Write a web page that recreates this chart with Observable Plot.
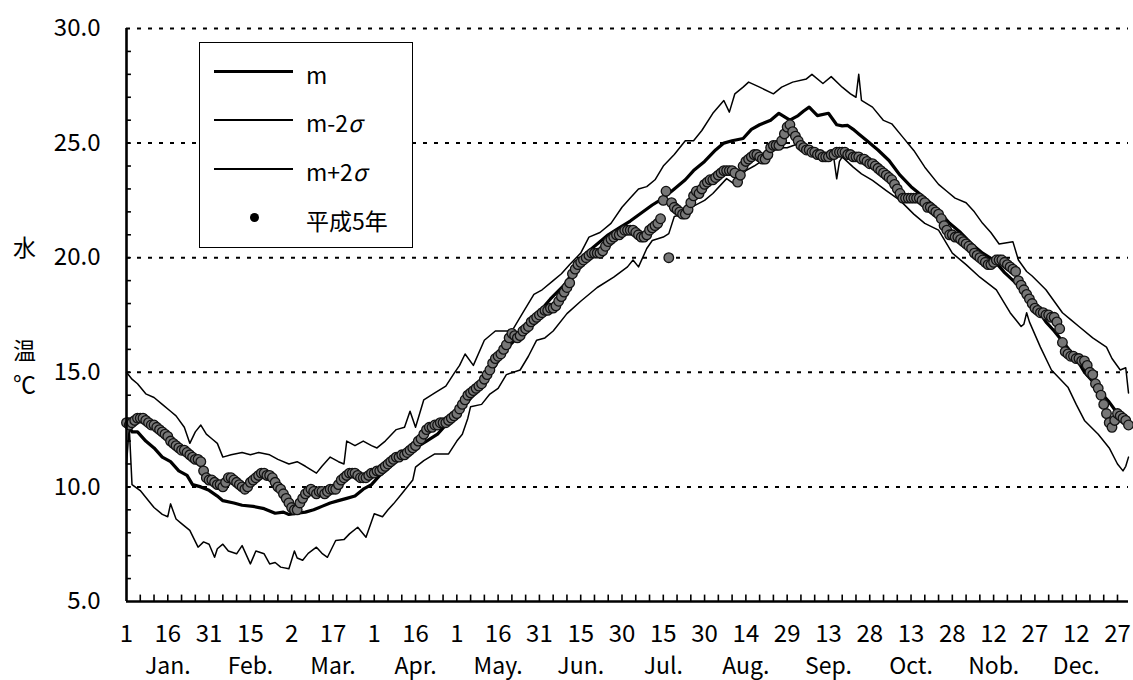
<!DOCTYPE html>
<html><head><meta charset="utf-8">
<script src="https://cdn.jsdelivr.net/npm/d3@7"></script>
<script src="https://cdn.jsdelivr.net/npm/@observablehq/plot@0.6"></script>
<style>
body{margin:0;background:#fff;}
#wrap{position:relative;width:1133px;height:680px;font-family:"Noto Sans CJK JP","Noto Sans",sans-serif;color:#000;}
#wrap svg{position:absolute;left:0;top:0;}
.ylab{position:absolute;font-size:23px;line-height:1;}
#legend{position:absolute;left:199px;top:42px;width:212px;height:204px;border:1.6px solid #000;background:#fff;}
#legend .ln{position:absolute;left:14px;width:79px;background:#000;}
#legend .dt{position:absolute;left:50px;width:9px;height:9px;border-radius:50%;background:#000;}
#legend .tx{position:absolute;left:106px;font-size:23px;line-height:1;}
#legend i{font-style:italic;}
</style></head><body><div id="wrap"></div>
<script>
// ---- data ----
const dayLabels = ["1","16","31","15","2","17","1","16","1","16","31","15","30","15","30","14","29","13","28","13","28","12","27","12","27"];
const monthLabels = ["Jan.","Feb.","Mar.","Apr.","May.","Jun.","Jul.","Aug.","Sep.","Oct.","Nob.","Dec."];
const yTicks = [5,10,15,20,25,30];
const gridTemps = [10,15,20,25,30];

// m (mean)  [day, °C]
const meanPts = [[1,12.9],[3,12.4],[5,12.4],[8,12.0],[11,11.7],[14,11.3],[17,11.1],[20,10.7],[23,10.5],[25,10.1],[28,10.0],[31,9.85],[34,9.6],[36,9.4],[40,9.3],[43,9.2],[47,9.15],[51,9.05],[55,8.85],[58,8.9],[60,8.8],[63,8.85],[66,8.9],[69,9.0],[72,9.15],[75,9.3],[78,9.4],[81,9.5],[84,9.6],[87,9.9],[90,10.1],[93,10.5],[96,10.8],[99,11.15],[102,11.4],[106,11.7],[110,12.0],[114,12.3],[117,12.7],[121,13.2],[124,13.6],[127,14.0],[131,14.6],[135,15.3],[138,15.9],[142,16.4],[146,16.9],[150,17.5],[155,18.2],[160,18.8],[164,19.5],[168,20.2],[172,20.6],[176,21.0],[180,21.3],[184,21.6],[188,21.95],[192,22.3],[196,22.6],[200,23.0],[204,23.4],[207,23.8],[211,24.2],[215,24.7],[218,25.0],[221,25.1],[225,25.2],[228,25.6],[231,25.8],[235,26.0],[238,26.3],[242,26.0],[245,26.2],[247,26.4],[249,26.57],[252,26.2],[256,26.3],[259,25.8],[261,25.75],[263,25.77],[265,25.6],[267,25.4],[270,25.1],[274,24.7],[278,24.24],[282,23.6],[286,23.1],[290,22.7],[293,22.4],[297,21.9],[300,21.5],[304,21.1],[308,20.6],[312,20.2],[316,19.9],[320,19.35],[324,18.9],[328,18.4],[331,17.9],[335,17.2],[338,16.8],[342,16.2],[346,15.6],[349,15.0],[352,14.6],[355,14.1],[358,13.7],[361,13.2],[363,12.9],[365,12.6]];

// m-2σ
const lowerPts = [[1,11.0],[2,12.6],[3,10.1],[6,9.84],[9,9.4],[11,9.1],[14,8.8],[16,8.7],[17,9.26],[19,8.6],[21,8.4],[24,8.1],[27,7.37],[29,7.6],[31,7.5],[33,6.93],[34,7.3],[36,7.5],[38,7.2],[41,7.08],[43,7.44],[46,6.64],[48,7.2],[51,7.08],[53,6.64],[55,6.7],[57,6.5],[60,6.43],[62,7.2],[63,6.9],[65,6.8],[67,7.1],[70,7.37],[72,7.1],[74,6.93],[77,7.66],[80,7.7],[82,7.95],[85,8.24],[88,7.8],[91,8.83],[94,8.7],[96,9.0],[98,9.26],[101,9.7],[105,10.3],[106,10.86],[109,11.15],[113,11.44],[118,11.44],[121,12.0],[123,12.3],[125,13.0],[126,13.5],[130,13.6],[133,14.05],[136,14.3],[139,14.9],[144,15.1],[147,15.7],[150,16.4],[153,16.5],[156,16.8],[161,17.56],[166,18.1],[172,18.7],[178,19.15],[183,19.6],[185,19.9],[187,19.6],[190,20.4],[192,20.75],[196,20.9],[198,21.05],[200,21.8],[203,21.9],[207,22.25],[211,22.5],[214,22.8],[219,23.45],[222,23.2],[226,23.8],[229,24.0],[232,24.24],[236,24.97],[239,24.8],[241,24.8],[245,24.97],[248,24.7],[250,24.5],[253,24.5],[256,24.5],[258,24.3],[259,23.44],[260,24.2],[261,24.4],[265,23.95],[268,23.66],[272,23.37],[277,22.93],[282,22.5],[287,21.9],[291,21.5],[296,21.2],[301,20.2],[306,19.7],[311,19.15],[317,18.6],[322,17.6],[326,17.0],[327,17.1],[328,17.6],[329,17.2],[333,16.1],[337,15.1],[341,14.6],[343,14.35],[346,13.6],[349,12.9],[354,12.3],[358,11.7],[361,11.0],[363,10.7],[364,10.9],[365,11.3]];

// m+2σ
const upperPts = [[1,15.0],[3,14.7],[5,14.5],[8,14.06],[11,13.9],[14,13.6],[17,13.3],[19,13.1],[22,12.6],[24,11.9],[26,12.4],[28,12.7],[30,12.3],[32,12.1],[34,11.9],[36,11.3],[39,11.4],[43,11.5],[46,11.4],[49,11.5],[53,11.4],[56,11.2],[60,11.0],[63,11.1],[66,10.9],[70,10.6],[72,10.9],[75,11.3],[78,11.1],[80,11.0],[81,12.0],[84,11.8],[87,12.0],[90,11.8],[92,11.7],[95,12.0],[99,12.5],[102,12.6],[104,13.3],[106,12.6],[109,13.8],[113,14.1],[117,14.4],[120,14.95],[122,15.3],[124,15.8],[127,15.3],[131,16.4],[135,16.8],[138,16.8],[141,16.8],[145,17.6],[149,18.4],[152,18.6],[156,19.0],[159,19.3],[162,19.7],[166,20.2],[169,20.9],[173,21.1],[177,21.5],[181,22.2],[184,22.6],[187,23.0],[190,23.1],[193,23.4],[196,24.0],[200,24.5],[204,25.1],[207,25.1],[210,25.55],[214,26.3],[218,26.86],[220,26.35],[222,27.15],[225,27.44],[227,27.66],[231,27.44],[236,27.15],[239,27.44],[243,27.66],[248,27.8],[250,28.0],[254,27.6],[257,27.9],[261,27.44],[264,27.15],[266,27.0],[267,28.0],[268,26.86],[272,26.57],[276,25.99],[279,25.84],[283,25.26],[287,24.68],[291,23.95],[296,23.2],[299,22.9],[302,22.6],[306,22.4],[309,22.0],[312,21.5],[315,21.1],[318,20.6],[323,20.7],[325,19.9],[328,19.4],[330,19.2],[335,18.6],[338,18.1],[341,17.6],[344,17.3],[347,17.0],[352,16.5],[357,16.1],[359,15.6],[362,15.1],[364,15.2],[365,14.1]];

// 平成5年 daily observations, one array per month
const obsJan = [12.8,12.7,12.8,12.9,13.0,13.0,13.0,12.9,12.8,12.7,12.7,12.6,12.5,12.4,12.3,12.2,12.0,11.9,11.8,11.7,11.6,11.6,11.5,11.4,11.3,11.2,11.2,11.1,10.7,10.4,10.3];
const obsFeb = [10.3,10.2,10.1,10.1,10.0,10.2,10.4,10.4,10.3,10.2,10.1,10.0,9.9,10.0,10.2,10.3,10.4,10.5,10.6,10.6,10.5,10.5,10.4,10.2,10.0,9.9,9.7,9.5];
const obsMar = [9.3,9.1,9.0,9.0,9.3,9.5,9.7,9.8,9.9,9.8,9.7,9.8,9.8,9.7,9.8,9.9,9.9,9.9,10.1,10.3,10.4,10.5,10.6,10.6,10.6,10.5,10.4,10.4,10.4,10.5,10.6];
const obsApr = [10.6,10.7,10.7,10.8,10.9,11.0,11.1,11.2,11.3,11.3,11.4,11.4,11.5,11.6,11.7,11.8,12.0,12.1,12.3,12.5,12.6,12.6,12.7,12.7,12.8,12.8,12.8,12.9,13.0,13.1];
const obsMay = [13.2,13.4,13.6,13.8,14.0,14.1,14.2,14.3,14.4,14.5,14.7,14.9,15.1,15.4,15.6,15.7,15.8,16.0,16.2,16.5,16.7,16.6,16.5,16.6,16.8,16.9,17.0,17.2,17.3,17.4,17.5];
const obsJun = [17.6,17.7,17.7,17.8,17.8,17.9,18.1,18.3,18.5,18.7,18.9,19.3,19.5,19.7,19.8,19.9,20.0,20.1,20.2,20.2,20.2,20.2,20.3,20.5,20.7,20.8,20.9,21.0,21.0,21.1];
const obsJul = [21.2,21.2,21.2,21.2,21.1,21.0,20.9,20.9,21.0,21.2,21.3,21.4,21.5,21.7,22.5,22.9,20.0,22.4,22.2,22.1,22.0,21.9,21.9,22.1,22.4,22.7,22.9,22.8,23.0,23.2,23.3];
const obsAug = [23.4,23.4,23.5,23.6,23.7,23.8,23.8,23.8,23.8,23.7,23.3,23.6,24.0,24.2,24.3,24.4,24.5,24.5,24.4,24.3,24.3,24.5,24.8,24.9,24.9,24.9,25.1,25.4,25.7,25.8,25.5];
const obsSep = [25.3,25.1,24.9,24.8,24.7,24.7,24.6,24.6,24.5,24.5,24.4,24.4,24.4,24.5,24.5,24.6,24.6,24.6,24.6,24.5,24.5,24.4,24.4,24.4,24.3,24.3,24.2,24.1,24.1,24.0];
const obsOct = [23.9,23.8,23.7,23.6,23.5,23.4,23.2,23.0,22.8,22.6,22.6,22.6,22.6,22.6,22.6,22.6,22.5,22.4,22.2,22.2,22.1,22.0,21.9,21.7,21.4,21.2,21.0,21.0,20.9,20.9,20.8];
const obsNov = [20.7,20.6,20.5,20.4,20.2,20.1,20.0,19.9,19.8,19.7,19.7,19.8,19.9,19.9,19.9,19.8,19.7,19.6,19.5,19.4,19.0,18.8,18.6,18.4,18.2,18.0,17.8,17.7,17.6,17.6];
const obsDec = [17.5,17.5,17.4,17.4,17.2,16.9,16.3,15.9,15.8,15.7,15.7,15.6,15.6,15.5,15.5,15.3,15.0,14.9,14.5,14.3,14.0,13.6,13.2,12.8,12.6,12.9,13.2,13.1,13.0,12.9,12.7];

// ---- build ----
const obs = [obsJan,obsFeb,obsMar,obsApr,obsMay,obsJun,obsJul,obsAug,obsSep,obsOct,obsNov,obsDec]
  .flat().map((v,i)=>({day:i+1, t:v}));
const tickDays = dayLabels.map((_,i)=>1+15*i);
const labelMap = new Map(tickDays.map((d,i)=>[d, dayLabels[i]]));
const months = monthLabels.map((m,i)=>({day:16+30*i, name:m}));
const xMinor = d3.range(6, 366, 5);
const yMinor = d3.range(6, 30, 1);

const chart = Plot.plot({
  width:1133, height:680,
  marginLeft:126, marginRight:5, marginTop:28, marginBottom:79,
  style:{fontFamily:'"Noto Sans CJK JP","Noto Sans",sans-serif', fontSize:"24px", background:"#fff", color:"#000", overflow:"visible"},
  x:{domain:[1,365]},
  y:{domain:[5,30]},
  marks:[
    Plot.ruleY(gridTemps, {stroke:"#000", strokeWidth:2, strokeDasharray:"4,7"}),
    Plot.ruleY(yMinor, {x1:1, x2:2.8, stroke:"#000", strokeWidth:1.6}),
    Plot.ruleX(xMinor, {y1:5, y2:5.28, stroke:"#000", strokeWidth:1.6}),
    Plot.line(lowerPts, {x:d=>d[0], y:d=>d[1], stroke:"#000", strokeWidth:1.5}),
    Plot.line(upperPts, {x:d=>d[0], y:d=>d[1], stroke:"#000", strokeWidth:1.5}),
    Plot.line(meanPts, {x:d=>d[0], y:d=>d[1], stroke:"#000", strokeWidth:3.2}),
    Plot.dot(obs, {x:"day", y:"t", r:4.8, fill:"#777", stroke:"#111", strokeWidth:1.3}),
    Plot.ruleX([1], {y1:5, y2:30, stroke:"#000", strokeWidth:2.6}),
    Plot.ruleY([5], {x1:1, x2:365, stroke:"#000", strokeWidth:2.6}),
    Plot.axisY(yTicks, {tickSize:0, tickPadding:26, tickFormat:d=>d.toFixed(1), fontSize:24, label:null}),
    Plot.axisX(tickDays, {tickSize:0, tickPadding:23, tickFormat:d=>labelMap.get(d), fontSize:24, label:null}),
    Plot.text(months, {x:"day", y:()=>5, text:"name", dy:72, lineAnchor:"bottom", fontSize:23, fill:"#000"})
  ]
});
const wrap = document.getElementById("wrap");
wrap.appendChild(chart);

// y-axis title
[["水",13,235],["温",13,338],["℃",13,372]].forEach(([t,x,y])=>{
  const s=document.createElement("div"); s.className="ylab"; s.textContent=t;
  s.style.left=x+"px"; s.style.top=y+"px"; wrap.appendChild(s);
});

// legend
const lg=document.createElement("div"); lg.id="legend";
lg.innerHTML = `
  <div class="ln" style="top:27px;height:3.2px"></div><div class="tx" style="top:20px">m</div>
  <div class="ln" style="top:76px;height:1.5px"></div><div class="tx" style="top:68px">m-2<i>σ</i></div>
  <div class="ln" style="top:125px;height:1.5px"></div><div class="tx" style="top:117px">m+2<i>σ</i></div>
  <div class="dt" style="top:170px"></div><div class="tx" style="top:166px">平成5年</div>`;
wrap.appendChild(lg);
</script></body></html>
